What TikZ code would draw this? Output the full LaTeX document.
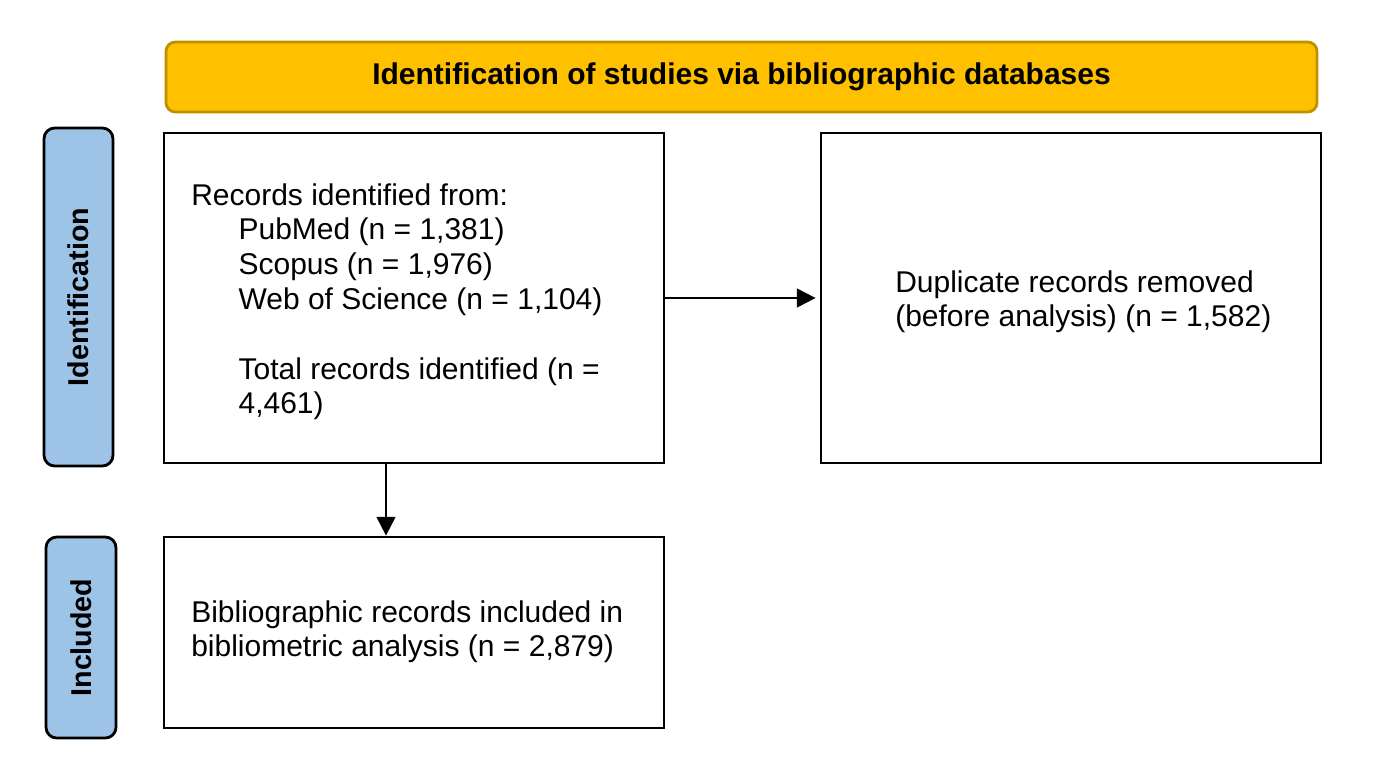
\documentclass[tikz,border=0pt]{standalone}
\usepackage{fontspec}
\setmainfont{Liberation Sans}
\usetikzlibrary{arrows.meta}
\definecolor{gold}{HTML}{FFC000}
\definecolor{golddark}{HTML}{BF9000}
\definecolor{sideblue}{HTML}{9DC3E6}
\begin{document}
\begin{tikzpicture}[x=0.75pt,y=-0.75pt,
  box/.style={draw=black, line width=2.1pt, fill=white, inner sep=0pt},
  banner/.style={draw=golddark, line width=2.1pt, fill=gold, rounded corners=7pt, inner sep=0pt,
    font=\bfseries\fontsize{22.5}{26}\selectfont},
  side/.style={draw=black, line width=2.1pt, fill=sideblue, rounded corners=8pt, inner sep=0pt,
    font=\bfseries\fontsize{21.5}{26}\selectfont},
  txt/.style={inner sep=0pt, align=left, font=\fontsize{22.5}{26.1}\selectfont},
  arr/.style={line width=1.6pt, -{Triangle[length=14pt,width=14pt]}}]
\useasboundingbox (0,0) rectangle (1373,779);
\fill[white] (0,0) rectangle (1373,779);

\node[banner, minimum width=863.25pt, minimum height=52.5pt] (ban) at (741.5,77)
  {Identification of studies via bibliographic databases};

\node[side, minimum width=51.75pt, minimum height=253.5pt] (sid) at (78.5,297)
  {\rotatebox{90}{Identification}};
\node[side, minimum width=52.5pt, minimum height=150.75pt] (sinc) at (81,637.5)
  {\rotatebox{90}{Included}};

\node[box, minimum width=375pt, minimum height=247.5pt] (rec) at (414,298) {};
\node[box, minimum width=375pt, minimum height=247.5pt] (dup) at (1071,298) {};
\node[box, minimum width=375pt, minimum height=143.25pt] (inc) at (414,632.5) {};

\node[txt, anchor=north west] (trec) at (191,183)
  {Records identified from:\\
   \hspace*{35.5pt}PubMed (n = 1,381)\\
   \hspace*{35.5pt}Scopus (n = 1,976)\\
   \hspace*{35.5pt}Web of Science (n = 1,104)\\[26.1pt]
   \hspace*{35.5pt}Total records identified (n =\\
   \hspace*{35.5pt}4,461)};
\node[txt, anchor=north west] (tdup) at (895,270)
  {Duplicate records removed\\(before analysis) (n = 1,582)};
\node[txt, anchor=north west] (tinc) at (191,600)
  {Bibliographic records included in\\bibliometric analysis (n = 2,879)};

\coordinate (ax) at (386,0);
\draw[arr, shorten >=3pt] (rec.east) -- (dup.west);
\draw[arr] (rec.south -| ax) -- (inc.north -| ax);
\end{tikzpicture}
\end{document}
